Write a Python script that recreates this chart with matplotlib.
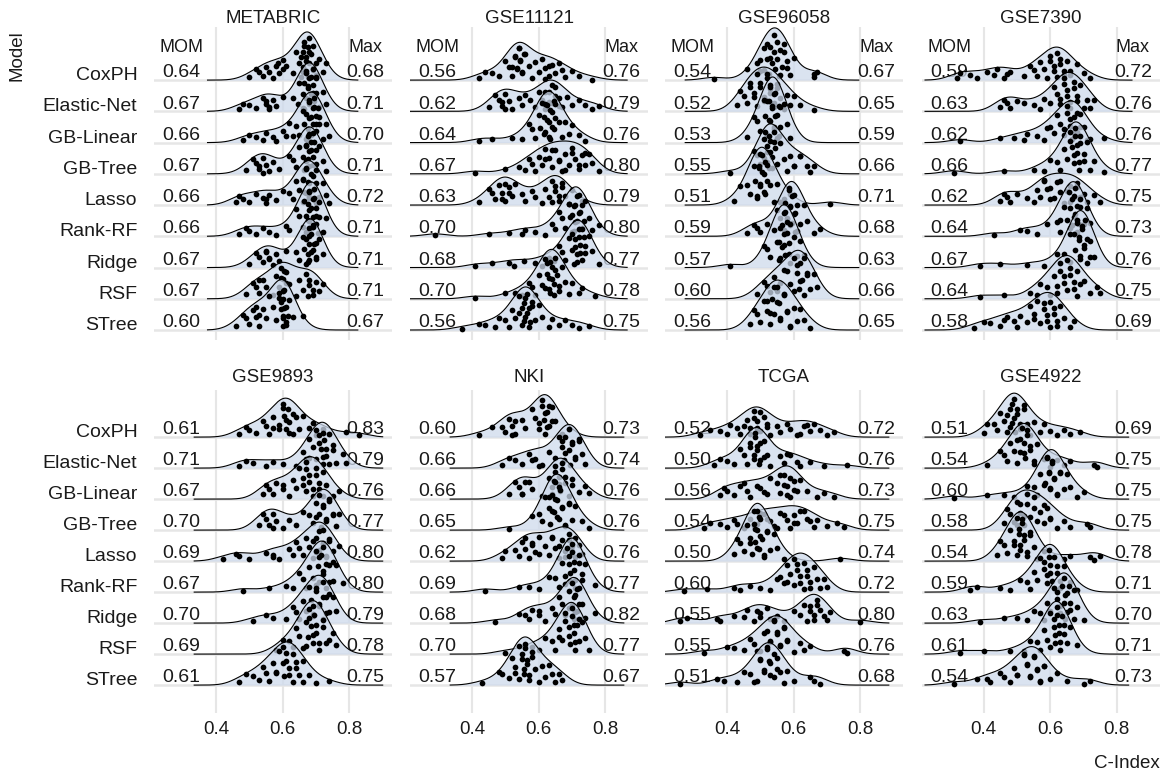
import numpy as np
import matplotlib
matplotlib.use("Agg")
import matplotlib.pyplot as plt

plt.rcParams['font.family'] = ['Liberation Sans', 'DejaVu Sans']

models = ["CoxPH", "Elastic-Net", "GB-Linear", "GB-Tree", "Lasso",
          "Rank-RF", "Ridge", "RSF", "STree"]
datasets = ["METABRIC", "GSE11121", "GSE96058", "GSE7390",
            "GSE9893", "NKI", "TCGA", "GSE4922"]

# C-index values per model (order as in models)
metabric = [
    [0.50, 0.52, 0.53, 0.54, 0.55, 0.56, 0.57, 0.58, 0.59, 0.60, 0.61, 0.63, 0.64, 0.65, 0.655, 0.66, 0.66, 0.665, 0.67, 0.67, 0.675, 0.68, 0.68, 0.685, 0.69, 0.69, 0.70, 0.70, 0.71, 0.72, 0.73,
     0.655, 0.66, 0.665, 0.67, 0.675, 0.68, 0.69, 0.585, 0.60, 0.70],
    [0.47, 0.48, 0.50, 0.52, 0.54, 0.55, 0.56, 0.57, 0.58, 0.60, 0.63, 0.645, 0.65, 0.66, 0.66, 0.665, 0.67, 0.67, 0.675, 0.68, 0.68, 0.685, 0.69, 0.69, 0.695, 0.70, 0.70, 0.71, 0.72, 0.73,
     0.67, 0.675, 0.68, 0.685, 0.69, 0.665, 0.55, 0.56, 0.70],
    [0.48, 0.50, 0.52, 0.54, 0.55, 0.57, 0.58, 0.60, 0.61, 0.62, 0.64, 0.65, 0.66, 0.665, 0.67, 0.67, 0.675, 0.68, 0.68, 0.685, 0.69, 0.69, 0.695, 0.70, 0.70, 0.705, 0.71, 0.72, 0.73, 0.74,
     0.68, 0.685, 0.69, 0.695, 0.70, 0.675, 0.71, 0.63],
    [0.49, 0.51, 0.52, 0.53, 0.54, 0.55, 0.56, 0.57, 0.59, 0.62, 0.63, 0.64, 0.65, 0.66, 0.665, 0.67, 0.67, 0.675, 0.68, 0.68, 0.685, 0.69, 0.69, 0.70, 0.70, 0.71, 0.72, 0.73,
     0.67, 0.675, 0.68, 0.685, 0.69, 0.695, 0.53, 0.54],
    [0.46, 0.47, 0.48, 0.50, 0.52, 0.54, 0.55, 0.56, 0.58, 0.60, 0.62, 0.63, 0.64, 0.65, 0.66, 0.66, 0.67, 0.67, 0.68, 0.68, 0.69, 0.69, 0.70, 0.70, 0.71, 0.72, 0.73, 0.74,
     0.66, 0.665, 0.67, 0.675, 0.68, 0.685, 0.55, 0.70],
    [0.47, 0.49, 0.50, 0.52, 0.54, 0.56, 0.58, 0.61, 0.62, 0.64, 0.65, 0.66, 0.665, 0.67, 0.67, 0.675, 0.68, 0.68, 0.68, 0.685, 0.69, 0.69, 0.695, 0.70, 0.70, 0.71, 0.71, 0.72, 0.73,
     0.675, 0.68, 0.685, 0.69, 0.695, 0.70, 0.705],
    [0.50, 0.52, 0.53, 0.54, 0.55, 0.56, 0.57, 0.58, 0.59, 0.61, 0.64, 0.65, 0.66, 0.665, 0.67, 0.67, 0.675, 0.68, 0.68, 0.68, 0.685, 0.69, 0.69, 0.70, 0.70, 0.71, 0.72,
     0.675, 0.68, 0.685, 0.69, 0.695, 0.70, 0.55, 0.56],
    [0.49, 0.51, 0.52, 0.53, 0.54, 0.55, 0.57, 0.58, 0.59, 0.595, 0.60, 0.60, 0.61, 0.62, 0.64, 0.65, 0.66, 0.67, 0.68, 0.69, 0.70, 0.71, 0.72,
     0.595, 0.60, 0.605, 0.61, 0.675, 0.68, 0.69, 0.53],
    [0.46, 0.48, 0.49, 0.50, 0.51, 0.52, 0.53, 0.54, 0.55, 0.56, 0.57, 0.58, 0.59, 0.595, 0.60, 0.60, 0.60, 0.605, 0.61, 0.61, 0.62, 0.63, 0.66,
     0.595, 0.60, 0.60, 0.605, 0.61, 0.59, 0.615, 0.52, 0.53],
]
gse11121 = [
    [0.42, 0.44, 0.46, 0.48, 0.50, 0.51, 0.52, 0.53, 0.535, 0.54, 0.545, 0.55, 0.56, 0.57, 0.58, 0.59, 0.60, 0.61, 0.62, 0.63, 0.64, 0.65, 0.66, 0.67, 0.68, 0.70, 0.72, 0.76,
     0.53, 0.535, 0.54, 0.545, 0.55, 0.555, 0.52, 0.62, 0.63],
    [0.45, 0.47, 0.48, 0.49, 0.50, 0.51, 0.52, 0.54, 0.55, 0.56, 0.575, 0.59, 0.60, 0.61, 0.62, 0.63, 0.64, 0.65, 0.66, 0.67, 0.685, 0.70, 0.72, 0.74, 0.76, 0.78,
     0.49, 0.50, 0.62, 0.63, 0.64, 0.65, 0.66],
    [0.42, 0.46, 0.52, 0.55, 0.57, 0.58, 0.59, 0.60, 0.605, 0.61, 0.615, 0.62, 0.625, 0.63, 0.635, 0.64, 0.645, 0.65, 0.66, 0.67, 0.68, 0.69, 0.70, 0.72, 0.74,
     0.62, 0.625, 0.63, 0.635, 0.64, 0.645, 0.65, 0.615],
    [0.41, 0.50, 0.54, 0.56, 0.57, 0.58, 0.59, 0.60, 0.61, 0.62, 0.63, 0.64, 0.65, 0.66, 0.67, 0.68, 0.69, 0.70, 0.71, 0.72, 0.73, 0.74, 0.75, 0.76, 0.78,
     0.64, 0.66, 0.68, 0.70, 0.72, 0.74, 0.62],
    [0.42, 0.45, 0.46, 0.47, 0.48, 0.49, 0.50, 0.51, 0.52, 0.53, 0.55, 0.56, 0.58, 0.59, 0.61, 0.62, 0.63, 0.64, 0.65, 0.66, 0.67, 0.68, 0.70, 0.73,
     0.49, 0.50, 0.51, 0.64, 0.65, 0.66, 0.67],
    [0.29, 0.45, 0.51, 0.55, 0.56, 0.59, 0.62, 0.64, 0.65, 0.66, 0.67, 0.68, 0.69, 0.695, 0.70, 0.705, 0.71, 0.715, 0.72, 0.72, 0.73, 0.735, 0.74, 0.75, 0.76, 0.78,
     0.70, 0.705, 0.71, 0.715, 0.72, 0.725, 0.73, 0.69],
    [0.41, 0.46, 0.51, 0.525, 0.555, 0.59, 0.61, 0.63, 0.645, 0.66, 0.67, 0.68, 0.69, 0.70, 0.705, 0.71, 0.715, 0.72, 0.725, 0.73, 0.735, 0.74, 0.75, 0.76, 0.78,
     0.70, 0.71, 0.715, 0.72, 0.725, 0.73, 0.74],
    [0.41, 0.50, 0.53, 0.55, 0.57, 0.58, 0.59, 0.60, 0.61, 0.62, 0.625, 0.63, 0.635, 0.64, 0.645, 0.65, 0.66, 0.67, 0.68, 0.69, 0.70, 0.72, 0.73, 0.77,
     0.62, 0.625, 0.63, 0.635, 0.64, 0.645, 0.65, 0.655, 0.66],
    [0.37, 0.42, 0.44, 0.47, 0.48, 0.50, 0.51, 0.52, 0.53, 0.54, 0.55, 0.555, 0.56, 0.565, 0.57, 0.58, 0.59, 0.60, 0.61, 0.63, 0.64, 0.66, 0.68, 0.70, 0.72, 0.75,
     0.54, 0.55, 0.555, 0.56, 0.565, 0.57, 0.575, 0.58],
]
gse96058 = [
    [0.36, 0.46, 0.49, 0.50, 0.51, 0.52, 0.525, 0.53, 0.535, 0.54, 0.54, 0.545, 0.55, 0.55, 0.555, 0.56, 0.565, 0.57, 0.58, 0.59, 0.66, 0.66, 0.67,
     0.50, 0.51, 0.52, 0.53, 0.56, 0.57, 0.58, 0.60],
    [0.43, 0.44, 0.45, 0.46, 0.47, 0.48, 0.49, 0.50, 0.51, 0.52, 0.53, 0.54, 0.55, 0.56, 0.57, 0.58, 0.59, 0.60, 0.62, 0.66,
     0.47, 0.48, 0.49, 0.50, 0.51, 0.52, 0.53, 0.54, 0.55],
    [0.46, 0.48, 0.49, 0.50, 0.51, 0.515, 0.52, 0.525, 0.53, 0.53, 0.535, 0.54, 0.54, 0.545, 0.55, 0.555, 0.56, 0.57, 0.58, 0.59,
     0.52, 0.525, 0.53, 0.535, 0.54, 0.545, 0.55, 0.555, 0.56],
    [0.41, 0.48, 0.49, 0.50, 0.51, 0.52, 0.525, 0.53, 0.535, 0.54, 0.545, 0.55, 0.56, 0.57, 0.58, 0.59, 0.60, 0.62, 0.64, 0.65, 0.66,
     0.51, 0.515, 0.52, 0.52, 0.525, 0.53, 0.535, 0.54, 0.60, 0.62],
    [0.42, 0.44, 0.46, 0.47, 0.48, 0.485, 0.49, 0.495, 0.50, 0.505, 0.51, 0.515, 0.52, 0.53, 0.54, 0.55, 0.57, 0.59, 0.71,
     0.49, 0.495, 0.50, 0.50, 0.505, 0.51, 0.515, 0.52, 0.56],
    [0.46, 0.48, 0.49, 0.50, 0.55, 0.56, 0.57, 0.575, 0.58, 0.585, 0.59, 0.59, 0.595, 0.60, 0.605, 0.61, 0.62, 0.63, 0.64, 0.66, 0.68,
     0.58, 0.585, 0.59, 0.595, 0.60, 0.605, 0.61, 0.52],
    [0.41, 0.51, 0.52, 0.53, 0.54, 0.55, 0.555, 0.56, 0.565, 0.57, 0.57, 0.575, 0.58, 0.585, 0.59, 0.60, 0.61, 0.62, 0.63,
     0.56, 0.565, 0.57, 0.575, 0.58, 0.585, 0.59, 0.555],
    [0.49, 0.51, 0.52, 0.53, 0.54, 0.56, 0.57, 0.58, 0.59, 0.60, 0.61, 0.615, 0.62, 0.625, 0.63, 0.64, 0.65, 0.66, 0.67,
     0.60, 0.61, 0.62, 0.63, 0.64, 0.55, 0.57],
    [0.47, 0.48, 0.49, 0.50, 0.51, 0.52, 0.53, 0.535, 0.54, 0.55, 0.555, 0.56, 0.57, 0.58, 0.59, 0.60, 0.61, 0.62, 0.63, 0.65,
     0.52, 0.53, 0.54, 0.55, 0.56, 0.57, 0.58, 0.59],
]
gse7390 = [
    [0.32, 0.33, 0.36, 0.38, 0.41, 0.43, 0.46, 0.48, 0.52, 0.54, 0.55, 0.56, 0.57, 0.58, 0.59, 0.60, 0.61, 0.62, 0.63, 0.64, 0.65, 0.66, 0.68, 0.70, 0.72,
     0.60, 0.61, 0.62, 0.63, 0.64, 0.44, 0.47, 0.66],
    [0.45, 0.46, 0.47, 0.48, 0.50, 0.55, 0.57, 0.58, 0.60, 0.61, 0.62, 0.63, 0.64, 0.65, 0.66, 0.67, 0.68, 0.69, 0.71, 0.72, 0.73,
     0.63, 0.64, 0.65, 0.66, 0.67, 0.68, 0.70, 0.52],
    [0.33, 0.45, 0.49, 0.52, 0.53, 0.56, 0.58, 0.59, 0.61, 0.62, 0.63, 0.64, 0.65, 0.66, 0.665, 0.67, 0.68, 0.69, 0.70, 0.72, 0.76,
     0.64, 0.65, 0.66, 0.67, 0.68, 0.69, 0.71, 0.60],
    [0.31, 0.46, 0.55, 0.58, 0.60, 0.62, 0.63, 0.64, 0.65, 0.66, 0.665, 0.67, 0.675, 0.68, 0.685, 0.69, 0.70, 0.71, 0.73, 0.76,
     0.66, 0.67, 0.675, 0.68, 0.685, 0.69, 0.70, 0.72],
    [0.45, 0.46, 0.47, 0.48, 0.50, 0.53, 0.55, 0.56, 0.57, 0.58, 0.59, 0.60, 0.62, 0.63, 0.64, 0.66, 0.67, 0.68, 0.70, 0.71, 0.73, 0.75,
     0.58, 0.60, 0.61, 0.63, 0.65, 0.66, 0.68, 0.69],
    [0.43, 0.51, 0.53, 0.56, 0.59, 0.62, 0.63, 0.64, 0.65, 0.655, 0.66, 0.665, 0.67, 0.675, 0.68, 0.69, 0.70, 0.71, 0.72,
     0.66, 0.665, 0.67, 0.675, 0.68, 0.685, 0.69, 0.63],
    [0.39, 0.45, 0.53, 0.58, 0.62, 0.64, 0.66, 0.67, 0.675, 0.68, 0.685, 0.69, 0.695, 0.70, 0.71, 0.72, 0.73,
     0.68, 0.685, 0.69, 0.695, 0.70, 0.705, 0.71, 0.72, 0.66],
    [0.39, 0.46, 0.54, 0.56, 0.57, 0.59, 0.60, 0.61, 0.62, 0.63, 0.64, 0.65, 0.66, 0.67, 0.68, 0.70, 0.72, 0.74, 0.75,
     0.62, 0.63, 0.64, 0.65, 0.66, 0.67, 0.68, 0.69],
    [0.37, 0.40, 0.42, 0.45, 0.47, 0.49, 0.50, 0.51, 0.53, 0.54, 0.55, 0.57, 0.58, 0.59, 0.60, 0.61, 0.62, 0.63, 0.64, 0.66, 0.67,
     0.55, 0.56, 0.58, 0.59, 0.60, 0.61, 0.62, 0.46],
]
gse9893 = [
    [0.47, 0.49, 0.50, 0.52, 0.54, 0.55, 0.56, 0.57, 0.59, 0.60, 0.605, 0.61, 0.615, 0.62, 0.63, 0.64, 0.65, 0.66, 0.68, 0.70, 0.72, 0.74, 0.79, 0.83,
     0.59, 0.60, 0.61, 0.62, 0.63, 0.57, 0.69],
    [0.47, 0.49, 0.51, 0.55, 0.57, 0.60, 0.64, 0.66, 0.67, 0.68, 0.69, 0.70, 0.71, 0.715, 0.72, 0.725, 0.73, 0.74, 0.75, 0.76, 0.78, 0.79,
     0.70, 0.71, 0.72, 0.72, 0.73, 0.74, 0.75, 0.68],
    [0.54, 0.55, 0.56, 0.57, 0.58, 0.60, 0.62, 0.63, 0.64, 0.65, 0.66, 0.67, 0.67, 0.68, 0.69, 0.70, 0.71, 0.72, 0.73, 0.75, 0.77,
     0.66, 0.67, 0.68, 0.69, 0.70, 0.71, 0.72, 0.60],
    [0.53, 0.54, 0.55, 0.56, 0.57, 0.58, 0.60, 0.62, 0.64, 0.66, 0.68, 0.69, 0.70, 0.71, 0.715, 0.72, 0.73, 0.74, 0.75, 0.76, 0.77,
     0.70, 0.71, 0.72, 0.73, 0.74, 0.75, 0.57],
    [0.42, 0.46, 0.47, 0.50, 0.55, 0.57, 0.59, 0.62, 0.63, 0.64, 0.65, 0.66, 0.67, 0.68, 0.69, 0.70, 0.71, 0.72, 0.72, 0.73, 0.74, 0.75, 0.77,
     0.69, 0.70, 0.71, 0.72, 0.73, 0.74, 0.57],
    [0.48, 0.56, 0.61, 0.63, 0.65, 0.66, 0.67, 0.68, 0.69, 0.70, 0.705, 0.71, 0.715, 0.72, 0.73, 0.74, 0.75, 0.76, 0.78,
     0.70, 0.71, 0.72, 0.72, 0.73, 0.74, 0.75],
    [0.51, 0.55, 0.57, 0.61, 0.63, 0.64, 0.65, 0.66, 0.67, 0.68, 0.685, 0.69, 0.70, 0.71, 0.72, 0.73, 0.74, 0.75, 0.76,
     0.69, 0.70, 0.71, 0.72, 0.72, 0.73, 0.74],
    [0.58, 0.60, 0.62, 0.63, 0.64, 0.65, 0.66, 0.67, 0.675, 0.68, 0.685, 0.69, 0.695, 0.70, 0.71, 0.72, 0.73, 0.75, 0.76,
     0.67, 0.68, 0.69, 0.69, 0.70, 0.71, 0.72, 0.74],
    [0.47, 0.49, 0.51, 0.53, 0.54, 0.55, 0.56, 0.57, 0.58, 0.59, 0.60, 0.605, 0.61, 0.62, 0.63, 0.64, 0.65, 0.66, 0.68, 0.70, 0.74,
     0.58, 0.60, 0.61, 0.62, 0.63, 0.64, 0.66],
]
nki = [
    [0.42, 0.46, 0.49, 0.50, 0.51, 0.52, 0.53, 0.55, 0.56, 0.58, 0.59, 0.60, 0.61, 0.615, 0.62, 0.625, 0.63, 0.64, 0.65, 0.67, 0.69,
     0.60, 0.61, 0.62, 0.625, 0.63, 0.64, 0.52, 0.53],
    [0.49, 0.51, 0.53, 0.55, 0.57, 0.59, 0.61, 0.63, 0.65, 0.66, 0.67, 0.675, 0.68, 0.69, 0.695, 0.70, 0.71, 0.72, 0.73, 0.74,
     0.67, 0.68, 0.69, 0.70, 0.71, 0.72, 0.58, 0.60],
    [0.51, 0.53, 0.54, 0.55, 0.56, 0.58, 0.61, 0.63, 0.64, 0.65, 0.66, 0.665, 0.67, 0.68, 0.69, 0.70, 0.72, 0.74, 0.75,
     0.64, 0.65, 0.66, 0.67, 0.68, 0.55, 0.57, 0.70],
    [0.51, 0.58, 0.60, 0.61, 0.62, 0.63, 0.635, 0.64, 0.645, 0.65, 0.655, 0.66, 0.665, 0.67, 0.68, 0.69, 0.70, 0.71, 0.73, 0.75,
     0.63, 0.64, 0.645, 0.65, 0.655, 0.66, 0.67, 0.68, 0.69],
    [0.49, 0.50, 0.53, 0.54, 0.55, 0.56, 0.57, 0.58, 0.59, 0.60, 0.62, 0.63, 0.64, 0.65, 0.66, 0.67, 0.68, 0.69, 0.70, 0.71, 0.72, 0.73,
     0.56, 0.58, 0.60, 0.64, 0.66, 0.68, 0.69, 0.70, 0.71],
    [0.44, 0.54, 0.57, 0.60, 0.63, 0.65, 0.66, 0.67, 0.68, 0.685, 0.69, 0.695, 0.70, 0.705, 0.71, 0.72, 0.73, 0.74, 0.77,
     0.68, 0.69, 0.695, 0.70, 0.705, 0.71, 0.72, 0.73],
    [0.47, 0.54, 0.56, 0.57, 0.58, 0.60, 0.62, 0.64, 0.65, 0.66, 0.67, 0.68, 0.69, 0.70, 0.705, 0.71, 0.715, 0.72, 0.73, 0.74, 0.77,
     0.69, 0.70, 0.705, 0.71, 0.715, 0.72, 0.73, 0.60],
    [0.50, 0.56, 0.58, 0.60, 0.62, 0.64, 0.65, 0.66, 0.67, 0.68, 0.69, 0.695, 0.70, 0.705, 0.71, 0.715, 0.72, 0.73, 0.74, 0.75,
     0.68, 0.69, 0.70, 0.705, 0.71, 0.72, 0.66],
    [0.43, 0.48, 0.49, 0.51, 0.52, 0.53, 0.54, 0.55, 0.555, 0.56, 0.565, 0.57, 0.58, 0.59, 0.60, 0.61, 0.62, 0.63, 0.64, 0.65, 0.66, 0.67,
     0.54, 0.55, 0.555, 0.56, 0.565, 0.57, 0.58, 0.53],
]
tcga = [
    [0.32, 0.35, 0.38, 0.40, 0.41, 0.43, 0.44, 0.46, 0.47, 0.48, 0.49, 0.50, 0.51, 0.52, 0.53, 0.55, 0.56, 0.58, 0.59, 0.61, 0.63, 0.65, 0.66, 0.68, 0.70, 0.72,
     0.45, 0.47, 0.48, 0.49, 0.50, 0.52, 0.62, 0.64],
    [0.36, 0.38, 0.40, 0.42, 0.44, 0.45, 0.46, 0.47, 0.48, 0.485, 0.49, 0.50, 0.51, 0.52, 0.53, 0.56, 0.57, 0.59, 0.61, 0.62, 0.65, 0.69, 0.76,
     0.47, 0.48, 0.485, 0.49, 0.495, 0.50, 0.51, 0.58],
    [0.38, 0.39, 0.40, 0.42, 0.44, 0.46, 0.47, 0.49, 0.51, 0.53, 0.55, 0.56, 0.57, 0.58, 0.59, 0.60, 0.61, 0.62, 0.64, 0.67, 0.69, 0.72,
     0.45, 0.50, 0.52, 0.56, 0.57, 0.58, 0.59, 0.60],
    [0.33, 0.35, 0.38, 0.40, 0.42, 0.43, 0.45, 0.47, 0.49, 0.50, 0.52, 0.54, 0.56, 0.58, 0.59, 0.60, 0.61, 0.62, 0.65, 0.66, 0.67, 0.70, 0.73, 0.75,
     0.48, 0.51, 0.53, 0.55, 0.57, 0.60, 0.63, 0.64],
    [0.42, 0.43, 0.44, 0.45, 0.46, 0.47, 0.475, 0.48, 0.485, 0.49, 0.49, 0.495, 0.50, 0.505, 0.51, 0.52, 0.53, 0.54, 0.55, 0.57, 0.74,
     0.47, 0.48, 0.485, 0.49, 0.495, 0.50, 0.51, 0.52],
    [0.27, 0.34, 0.42, 0.44, 0.47, 0.50, 0.53, 0.55, 0.57, 0.58, 0.59, 0.60, 0.61, 0.62, 0.63, 0.64, 0.65, 0.66, 0.67, 0.68, 0.69, 0.70,
     0.60, 0.61, 0.62, 0.63, 0.64, 0.65, 0.56, 0.58],
    [0.26, 0.28, 0.37, 0.38, 0.42, 0.45, 0.48, 0.49, 0.50, 0.52, 0.55, 0.57, 0.60, 0.62, 0.64, 0.65, 0.66, 0.67, 0.68, 0.70, 0.71, 0.80,
     0.46, 0.50, 0.53, 0.63, 0.65, 0.66, 0.67, 0.69],
    [0.33, 0.40, 0.42, 0.45, 0.47, 0.48, 0.50, 0.51, 0.53, 0.54, 0.55, 0.56, 0.57, 0.58, 0.60, 0.62, 0.63, 0.65, 0.75, 0.76,
     0.52, 0.53, 0.54, 0.55, 0.56, 0.57, 0.58, 0.49],
    [0.26, 0.37, 0.39, 0.43, 0.45, 0.47, 0.49, 0.50, 0.51, 0.52, 0.53, 0.54, 0.55, 0.56, 0.57, 0.58, 0.60, 0.65, 0.66, 0.68,
     0.50, 0.51, 0.52, 0.525, 0.53, 0.54, 0.55, 0.48],
]
gse4922 = [
    [0.40, 0.41, 0.43, 0.44, 0.45, 0.46, 0.47, 0.48, 0.485, 0.49, 0.50, 0.51, 0.52, 0.53, 0.54, 0.55, 0.57, 0.58, 0.60, 0.62, 0.64, 0.66, 0.69,
     0.47, 0.48, 0.485, 0.49, 0.495, 0.50, 0.51, 0.52],
    [0.41, 0.45, 0.46, 0.47, 0.48, 0.49, 0.50, 0.51, 0.52, 0.53, 0.54, 0.55, 0.56, 0.58, 0.60, 0.62, 0.64, 0.66, 0.73, 0.74,
     0.50, 0.51, 0.515, 0.52, 0.525, 0.53, 0.54, 0.55],
    [0.31, 0.41, 0.46, 0.49, 0.53, 0.55, 0.56, 0.57, 0.58, 0.59, 0.595, 0.60, 0.605, 0.61, 0.62, 0.63, 0.64, 0.65, 0.66, 0.68, 0.70,
     0.585, 0.59, 0.595, 0.60, 0.605, 0.61, 0.62, 0.63],
    [0.46, 0.47, 0.48, 0.49, 0.50, 0.51, 0.52, 0.53, 0.54, 0.55, 0.57, 0.58, 0.59, 0.60, 0.62, 0.64, 0.66, 0.71, 0.72,
     0.50, 0.51, 0.52, 0.53, 0.55, 0.56, 0.58, 0.60],
    [0.44, 0.45, 0.46, 0.47, 0.48, 0.49, 0.50, 0.505, 0.51, 0.515, 0.52, 0.53, 0.54, 0.55, 0.56, 0.58, 0.64, 0.66, 0.72, 0.73, 0.75,
     0.49, 0.50, 0.505, 0.51, 0.515, 0.52, 0.53, 0.54],
    [0.36, 0.38, 0.45, 0.48, 0.51, 0.53, 0.54, 0.55, 0.56, 0.57, 0.58, 0.59, 0.595, 0.60, 0.61, 0.62, 0.63, 0.64, 0.66, 0.68,
     0.58, 0.59, 0.595, 0.60, 0.605, 0.61, 0.62, 0.63],
    [0.39, 0.46, 0.50, 0.53, 0.55, 0.57, 0.58, 0.59, 0.60, 0.61, 0.62, 0.63, 0.635, 0.64, 0.645, 0.65, 0.66, 0.67, 0.68, 0.70,
     0.62, 0.63, 0.64, 0.645, 0.65, 0.655, 0.66, 0.67],
    [0.33, 0.40, 0.48, 0.52, 0.54, 0.56, 0.57, 0.58, 0.59, 0.60, 0.61, 0.615, 0.62, 0.625, 0.63, 0.64, 0.65, 0.66, 0.68,
     0.60, 0.61, 0.615, 0.62, 0.625, 0.63, 0.635, 0.64],
    [0.31, 0.38, 0.41, 0.42, 0.45, 0.46, 0.48, 0.49, 0.50, 0.52, 0.53, 0.54, 0.55, 0.56, 0.57, 0.58, 0.60, 0.62, 0.65, 0.70, 0.72,
     0.50, 0.52, 0.53, 0.54, 0.55, 0.56, 0.57, 0.58],
]

mom_vals = [
    [0.64, 0.67, 0.66, 0.67, 0.66, 0.66, 0.67, 0.67, 0.60],
    [0.56, 0.62, 0.64, 0.67, 0.63, 0.70, 0.68, 0.70, 0.56],
    [0.54, 0.52, 0.53, 0.55, 0.51, 0.59, 0.57, 0.60, 0.56],
    [0.59, 0.63, 0.62, 0.66, 0.62, 0.64, 0.67, 0.64, 0.58],
    [0.61, 0.71, 0.67, 0.70, 0.69, 0.67, 0.70, 0.69, 0.61],
    [0.60, 0.66, 0.66, 0.65, 0.62, 0.69, 0.68, 0.70, 0.57],
    [0.52, 0.50, 0.56, 0.54, 0.50, 0.60, 0.55, 0.55, 0.51],
    [0.51, 0.54, 0.60, 0.58, 0.54, 0.59, 0.63, 0.61, 0.54],
]
max_vals = [
    [0.68, 0.71, 0.70, 0.71, 0.72, 0.71, 0.71, 0.71, 0.67],
    [0.76, 0.79, 0.76, 0.80, 0.79, 0.80, 0.77, 0.78, 0.75],
    [0.67, 0.65, 0.59, 0.66, 0.71, 0.68, 0.63, 0.66, 0.65],
    [0.72, 0.76, 0.76, 0.77, 0.75, 0.73, 0.76, 0.75, 0.69],
    [0.83, 0.79, 0.76, 0.77, 0.80, 0.80, 0.79, 0.78, 0.75],
    [0.73, 0.74, 0.76, 0.76, 0.76, 0.77, 0.82, 0.77, 0.67],
    [0.72, 0.76, 0.73, 0.75, 0.74, 0.72, 0.80, 0.76, 0.68],
    [0.69, 0.75, 0.75, 0.75, 0.78, 0.71, 0.70, 0.71, 0.73],
]
panels = [metabric, gse11121, gse96058, gse7390, gse9893, nki, tcga, gse4922]


def nrd0(x):
    x = np.asarray(x)
    sd = np.std(x, ddof=1)
    q75, q25 = np.percentile(x, [75, 25])
    lo = min(sd, (q75 - q25) / 1.34)
    return 0.9 * lo * len(x) ** -0.2


def kde(x, grid, bw):
    x = np.asarray(x)
    z = (grid[:, None] - x[None, :]) / bw
    return np.exp(-0.5 * z ** 2).sum(axis=1) / (len(x) * bw * np.sqrt(2 * np.pi))


W, H = 1167, 777
fig = plt.figure(figsize=(W / 100, H / 100), dpi=100)

XL = (0.214, 0.928)
col_left = [154, 410, 665, 921.5]
ax_w = 238
rows = [dict(top=27, bot=340, ylim=(-0.32, 9.7)),
        dict(top=390, bot=713, ylim=(-0.9, 9.52))]

fill_c = '#cedaec'
grid_c = '#e6e6e6'
txt_c = '#1a1a1a'

# one joint bandwidth for all ridges, a bit smoother than nrd0
bw = 1.3 * np.mean([nrd0(v) for data in panels for v in data])
curves = []
for p, data in enumerate(panels):
    allv = np.concatenate([np.asarray(v) for v in data])
    lo = max(allv.min() - 2.5 * bw, XL[0])
    hi = min(allv.max() + 2.5 * bw, 0.9)
    grid = np.linspace(lo, hi, 512)
    curves.append([(grid, kde(v, grid, bw)) for v in data])
peak = max(d.max() for c in curves for (_, d) in c)
scale = 2.1 / peak

golden = 0.6180339887

for p, data in enumerate(panels):
    r = rows[p // 4]
    c = p % 4
    left = col_left[c] / W
    bottom = 1 - r['bot'] / H
    height = (r['bot'] - r['top']) / H
    ax = fig.add_axes([left, bottom, ax_w / W, height])
    ax.set_xlim(*XL)
    ax.set_ylim(*r['ylim'])
    for s in ax.spines.values():
        s.set_visible(False)
    ax.tick_params(length=0)
    for xv in [0.4, 0.6, 0.8]:
        ax.axvline(xv, color=grid_c, lw=1.5, zorder=0)
    levels = [8 - i for i in range(9)]
    for yv in levels:
        ax.axhline(yv, color=grid_c, lw=1.8, zorder=0)

    ax.set_xticks([0.4, 0.6, 0.8])
    if p // 4 == 1:
        ax.set_xticklabels(['0.4', '0.6', '0.8'], fontsize=13.5, color=txt_c)
        ax.tick_params(axis='x', pad=6)
    else:
        ax.set_xticklabels([])
    ax.set_yticks(levels)
    if c == 0:
        ax.set_yticklabels(models, fontsize=14, color=txt_c)
        for lbl in ax.get_yticklabels():
            lbl.set_verticalalignment('baseline')
        ax.tick_params(axis='y', pad=12)
    else:
        ax.set_yticklabels([])

    z = 2
    for i, vals in enumerate(data):
        y0 = levels[i]
        grid, dens = curves[p][i]
        h = dens * scale
        ax.fill_between(grid, y0, y0 + h, color=fill_c, alpha=0.75, lw=0, zorder=z)
        ax.plot(grid, y0 + h, color='black', lw=0.8, zorder=z + 0.1)
        xs = np.asarray(vals)
        hx = np.interp(xs, grid, h)
        u = np.array([(0.37 + k * golden) % 1.0 for k in range(len(xs))])
        ys = y0 + (0.06 + 0.86 * u) * hx
        ax.scatter(xs, ys, s=17, color='black', lw=0, zorder=z + 0.2)
        z += 1
        ax.text(0.297, y0 + 0.09, f"{mom_vals[p][i]:.2f}", ha='center', va='baseline',
                fontsize=14, color=txt_c, zorder=1)
        ax.text(0.848, y0 + 0.09, f"{max_vals[p][i]:.2f}", ha='center', va='baseline',
                fontsize=14, color=txt_c, zorder=1)

    if p // 4 == 0:
        ax.text(0.297, 8.9, "MOM", ha='center', va='baseline', fontsize=13, color=txt_c)
        ax.text(0.848, 8.9, "Max", ha='center', va='baseline', fontsize=13, color=txt_c)

    title_y = 18.5 if p // 4 == 0 else 377
    fig.text((col_left[c] + ax_w / 2) / W, 1 - title_y / H, datasets[p],
             ha='center', va='center', fontsize=13.5, color=txt_c)

fig.text(17 / W, 1 - 30 / H, "Model", rotation=90, ha='center', va='top',
         fontsize=13.5, color=txt_c)
fig.text(1160 / W, 1 - 764 / H, "C-Index", ha='right', va='center',
         fontsize=13.5, color=txt_c)

fig.savefig("out.png", dpi=100, facecolor='white')
